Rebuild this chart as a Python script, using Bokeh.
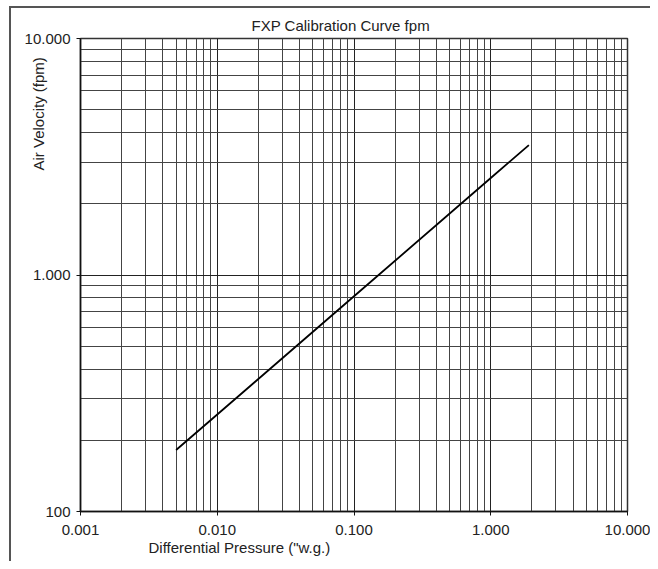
from bokeh.plotting import figure
from bokeh.models import FixedTicker, CustomJSTickFormatter, Title
from bokeh.embed import file_html
from bokeh.resources import INLINE

# data
pressure = [0.005, 0.01, 0.1, 1.0, 1.9]          # "w.g.
velocity = [182, 257, 813, 2570, 3543]          # fpm

x_major = [0.001, 0.01, 0.1, 1.0, 10.0]
y_major = [100, 1000, 10000]
x_minor = [m * d for d in [0.001, 0.01, 0.1, 1.0] for m in range(2, 10)]
y_minor = [m * d for d in [100, 1000] for m in range(2, 10)]

title_text = "FXP Calibration Curve fpm"
xlabel_text = "Differential Pressure (\"w.g.)"
ylabel_text = "Air Velocity (fpm)"

FONT = "Liberation Sans"
TXT = "#222222"

p = figure(x_axis_type="log", y_axis_type="log",
           x_range=(x_major[0], x_major[-1]), y_range=(y_major[0], y_major[-1]),
           frame_width=547, frame_height=473,
           min_border_left=69, min_border_right=23,
           min_border_top=30, min_border_bottom=50,
           output_backend="svg", toolbar_location=None)
p.styles = {"border-top": "2px solid #555555", "border-left": "2px solid #555555",
            "margin-left": "9px", "margin-top": "6px"}

p.title.text = title_text
p.title.align = "left"
p.title.offset = 171
p.title.text_font = FONT
p.title.text_font_size = "15px"
p.title.text_font_style = "normal"
p.title.text_color = TXT

p.xaxis.ticker = FixedTicker(ticks=x_major, minor_ticks=x_minor)
p.yaxis.ticker = FixedTicker(ticks=y_major, minor_ticks=y_minor)
p.xaxis.formatter = CustomJSTickFormatter(code="return tick.toFixed(3);")
p.yaxis.formatter = CustomJSTickFormatter(
    code="return Math.round(tick).toString().replace(/\\B(?=(\\d{3})+(?!\\d))/g, '.');")

for ax in (p.xaxis, p.yaxis):
    ax.major_label_text_font = FONT
    ax.major_label_text_font_size = "15px"
    ax.major_label_text_color = TXT
    ax.axis_line_color = "#111111"
    ax.axis_line_width = 1.5
    ax.major_tick_line_color = "#111111"
    ax.major_tick_out = 4
    ax.major_tick_in = 0
    ax.minor_tick_line_color = None
    ax.major_label_standoff = 6
p.xaxis.major_label_standoff = 9

ylab = Title(text=ylabel_text, align="left", offset=341,
             text_font=FONT, text_font_size="15px",
             text_font_style="normal", text_color=TXT)
ylab.standoff = -50
p.add_layout(ylab, "left")

p.add_layout(Title(text=xlabel_text, align="left", offset=68, standoff=-2,
                   text_font=FONT, text_font_size="15px",
                   text_font_style="normal", text_color=TXT), "below")

for g in (p.xgrid, p.ygrid):
    g.grid_line_color = "#222222"
    g.grid_line_width = 1
    g.minor_grid_line_color = "#444444"
    g.minor_grid_line_width = 1

p.outline_line_color = "#333333"
p.outline_line_width = 1.5
p.background_fill_color = "white"
p.border_fill_color = "white"

p.line(pressure, velocity, line_color="black", line_width=1.8)

open("out.html", "w").write(file_html(p, INLINE))
